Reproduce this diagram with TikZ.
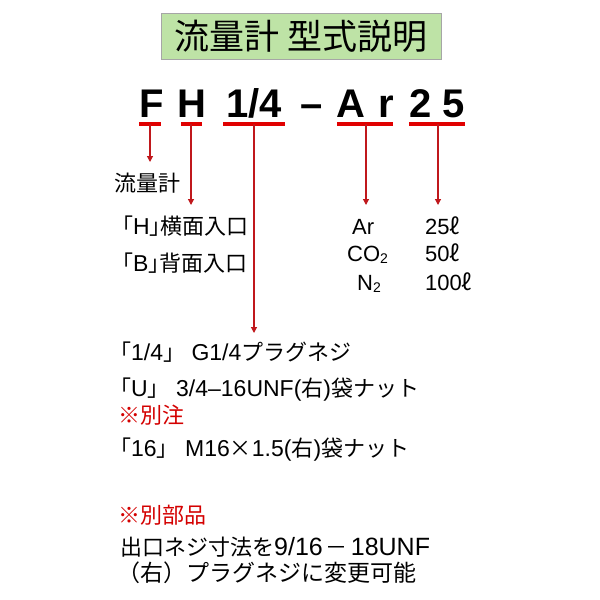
\documentclass[tikz,border=0pt]{standalone}
\usepackage{fontspec}
\setmainfont{Noto Sans CJK JP}
\newfontfamily\jppalt{Noto Sans CJK JP}[RawFeature=+palt]
\newfontfamily\latfont{Liberation Sans}
\newfontfamily\jpfull{Noto Sans CJK JP}
\usetikzlibrary{arrows.meta}
\newcommand\lt[1]{{\fontsize{23}{23}\selectfont\latfont #1}}
\newcommand\ltb[1]{{\fontsize{25}{25}\selectfont\latfont #1}}
\newcommand\subtwo{\raisebox{-2.5pt}{\fontsize{14}{14}\selectfont\latfont 2}}
\newcommand\litre{{\jpfull ℓ}}
\definecolor{titlegreen}{HTML}{BEE3A6}
\definecolor{ulred}{HTML}{E00000}
\definecolor{arrred}{HTML}{C0181C}
\definecolor{notered}{HTML}{D40000}
\tikzset{
  codech/.style={anchor=base, inner sep=0pt, font=\fontsize{40}{40}\selectfont\latfont\bfseries},
  uline/.style={draw=ulred, line width=4pt},
  arr/.style={draw=arrred, line width=1.2pt, -{Triangle[length=6pt,width=6pt]}},
  txt/.style={anchor=base west, inner sep=0pt, font=\fontsize{22}{22}\selectfont},
  toptxt/.style={anchor=base west, inner sep=0pt, font=\fontsize{22}{22}\selectfont\jppalt},
  ltxt/.style={anchor=base west, inner sep=0pt, font=\fontsize{22}{22}\selectfont\latfont},
  redtxt/.style={txt, text=notered},
}
\begin{document}
\begin{tikzpicture}[x=1pt,y=-1pt]
\useasboundingbox (0,0) rectangle (600,600);
\fill[white] (0,0) rectangle (600,600);
% title
\node[draw=gray!70, line width=0.8pt, fill=titlegreen, minimum width=280pt, minimum height=46pt, inner sep=0pt,
  font=\fontsize{35}{35}\selectfont\jpfull] (title) at (301,36) {流量計 型式説明};
% model code
\node[codech] (cF) at (152,117) {F};
\node[codech] (cH) at (192,117) {H};
\node[codech] (c14) at (254,117) {1/4};
\node[codech] (cdash) at (312,117) {–};
\node[codech] (cA) at (351,117) {A};
\node[codech] (cr) at (386,117) {r};
\node[codech] (c2) at (421,117) {2};
\node[codech] (c5) at (454,117) {5};
% underlines
\coordinate (uF) at (150,124);
\coordinate (uH) at (191,124);
\coordinate (u14) at (254,124);
\coordinate (uAr) at (366,124);
\coordinate (u25) at (438,124);
\draw[uline] (139,124) -- (161,124);
\draw[uline] (181,124) -- (202,124);
\draw[uline] (223,124) -- (285,124);
\draw[uline] (337,124) -- (393,124);
\draw[uline] (409,124) -- (465,124);
% arrow targets
\coordinate (tF) at (150,162);
\coordinate (tH) at (191,205);
\coordinate (t14) at (254,333);
\coordinate (tAr) at (366,205);
\coordinate (t25) at (438,205);
\draw[arr] (uF) -- (tF);
\draw[arr] (uH) -- (tH);
\draw[arr] (u14) -- (t14);
\draw[arr] (uAr) -- (tAr);
\draw[arr] (u25) -- (t25);
% texts
\node[toptxt] (fm) at (114,191) {流量計};
\node[toptxt] (hside) at (122,234) {「\lt{H}」横面入口};
\node[toptxt] (bback) at (122,271) {「\lt{B}」背面入口};
\node[ltxt] (gAr) at (352,234) {Ar};
\node[ltxt] (gCO) at (347,261) {CO\subtwo};
\node[ltxt] (gN) at (357,290) {N\subtwo};
\node[ltxt] (v25) at (425,234) {25\litre};
\node[ltxt] (v50) at (425,261) {50\litre};
\node[ltxt] (v100) at (425,290) {100\litre};
\node[txt] (l1) at (109,360) {「\lt{1/4}」\lt{ G1/4}プラグネジ};
\node[txt] (l2) at (109,396) {「\lt{U}」\lt{ 3/4–16UNF(}右\lt{)}袋ナット};
\node[redtxt] (l3) at (118,423) {※別注};
\node[txt] (l4) at (109,456) {「\lt{16}」\lt{ M16}×\lt{1.5(}右\lt{)}袋ナット};
\node[redtxt] (l5) at (118,523) {※別部品};
\node[txt] (l6) at (120,555) {出口ネジ寸法を\ltb{9/16}\hspace{3pt}－\hspace{3pt}\ltb{18UNF}};
\node[txt, font=\fontsize{23}{23}\selectfont] (l7) at (117,581) {（右）プラグネジに変更可能};
\end{tikzpicture}
\end{document}
